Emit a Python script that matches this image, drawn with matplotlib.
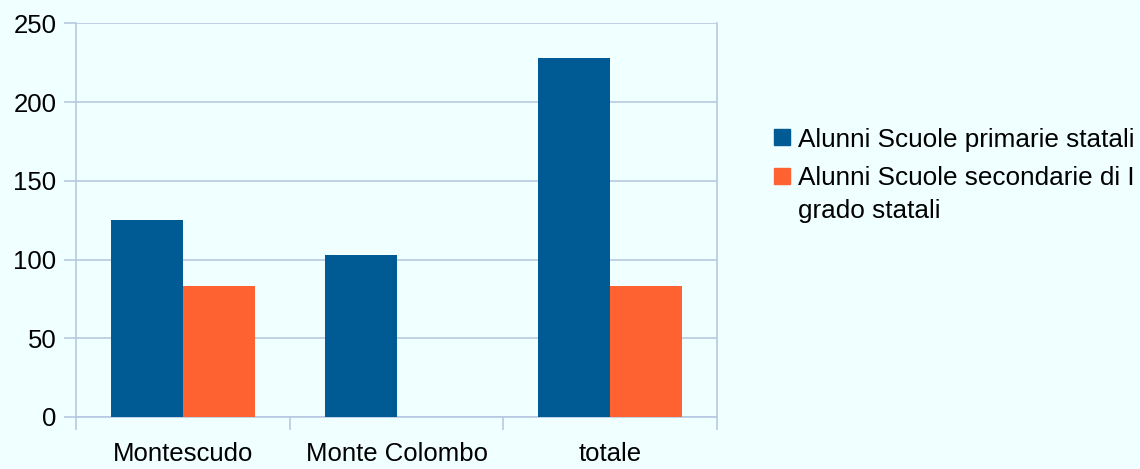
import numpy as np
import matplotlib.pyplot as plt
from matplotlib.patches import Rectangle

plt.rcParams['font.family'] = ['Liberation Sans', 'DejaVu Sans']

comuni = ['Montescudo', 'Monte Colombo', 'totale']
primarie = [125, 103, 228]
secondarie = [83, 0, 83]
serie_nomi = ['Alunni Scuole primarie statali',
              'Alunni Scuole secondarie di I\ngrado statali']

BLU = '#005B94'
ARANCIO = '#FF6231'
SFONDO = '#F0FFFF'
GRIGLIA = '#B8C8E2'
FS = 18.5

fig = plt.figure(figsize=(11.4, 4.69), dpi=100, facecolor=SFONDO)
ax = fig.add_axes([0.0667, 0.111, 0.5623, 0.839], facecolor=SFONDO)

x = np.arange(len(comuni))
w = 0.337
ax.bar(x - w / 2, primarie, w, color=BLU, zorder=3)
ax.bar(x + w / 2, secondarie, w, color=ARANCIO, zorder=3)

ax.set_xlim(-0.5, len(comuni) - 0.5)
ax.set_ylim(0, 250)
ax.set_yticks(np.arange(0, 251, 50))
ax.yaxis.grid(True, color=GRIGLIA, linewidth=1.2, zorder=0)

# category labels in the middle, tick marks on the boundaries
ax.set_xticks(x)
ax.set_xticklabels(comuni)
ax.set_xticks(np.arange(-0.5, len(comuni), 1), minor=True)
ax.tick_params(axis='x', which='major', length=0, pad=18, labelsize=FS)
ax.tick_params(axis='x', which='minor', length=9.5, width=1.2, color=GRIGLIA)
ax.tick_params(axis='y', length=9, width=1.2, color=GRIGLIA, pad=5, labelsize=FS)

for s in ax.spines.values():
    s.set_color(GRIGLIA)
    s.set_linewidth(1.2)
ax.spines['top'].set_visible(False)

# legend on the right: one square per series, label lines placed by baseline
colori = [BLU, ARANCIO]
quadrati_y = [129, 168]
baseline_righe = [[147], [185, 218]]
for col, nome, qy, basi in zip(colori, serie_nomi, quadrati_y, baseline_righe):
    fig.patches.append(Rectangle((774 / 1140, 1 - (qy + 16) / 469), 16 / 1140, 16 / 469,
                                 transform=fig.transFigure, color=col))
    for riga, yb in zip(nome.split('\n'), basi):
        fig.text(798 / 1140, 1 - yb / 469, riga, fontsize=18.8, va='baseline',
                 transform=fig.transFigure)

fig.savefig('out.png', dpi=100, facecolor=SFONDO)
